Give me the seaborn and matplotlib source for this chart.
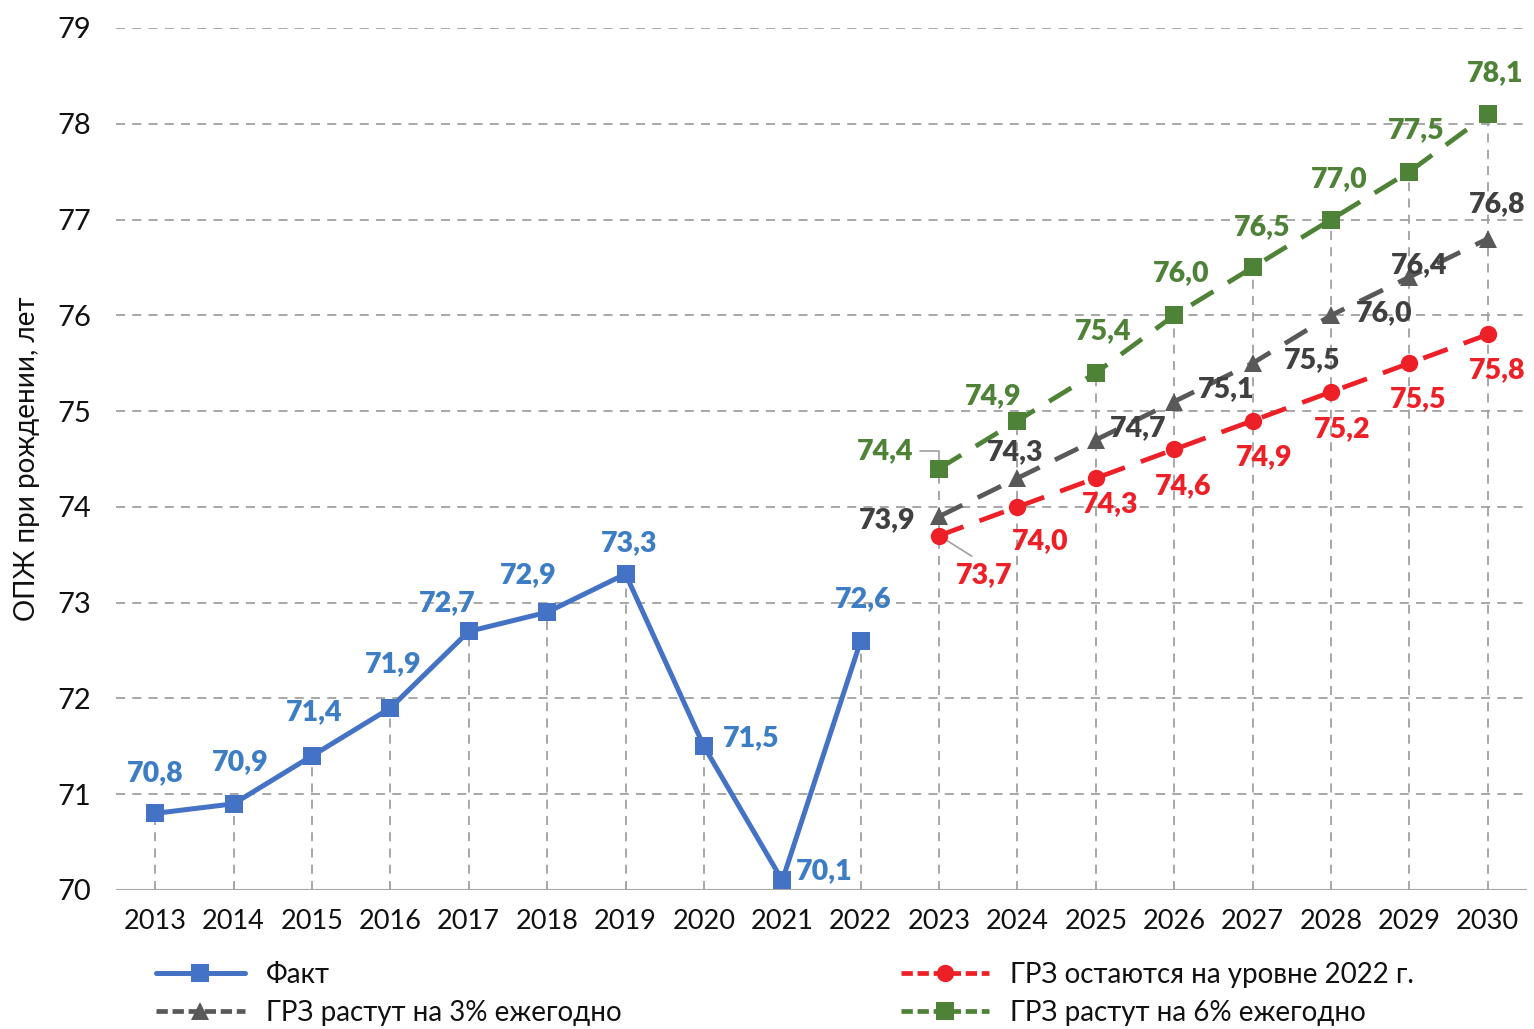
import matplotlib
matplotlib.use("Agg")
import matplotlib.pyplot as plt
from matplotlib.lines import Line2D
import seaborn as sns
import pandas as pd
import numpy as np

years = [str(y) for y in range(2013, 2031)]
fact_years = years[:10]
fact_vals = [70.8, 70.9, 71.4, 71.9, 72.7, 72.9, 73.3, 71.5, 70.1, 72.6]
fc_years = years[10:]
stay_vals = [73.7, 74.0, 74.3, 74.6, 74.9, 75.2, 75.5, 75.8]
g3_vals = [73.9, 74.3, 74.7, 75.1, 75.5, 76.0, 76.4, 76.8]
g6_vals = [74.4, 74.9, 75.4, 76.0, 76.5, 77.0, 77.5, 78.1]

names = ["Факт", "ГРЗ растут на 3% ежегодно", "ГРЗ остаются на уровне 2022 г.", "ГРЗ растут на 6% ежегодно"]
ylabel = "ОПЖ при рождении, лет"

BLUE = "#4472C4"; BLUE_T = "#3C7DC4"
RED = "#EE2027"
GRAY = "#595959"; GRAY_T = "#404040"
GREEN = "#4E8237"; GREEN_T = "#4E8237"

sns.set_theme(style="white")
plt.rcParams['font.family'] = ['Lato', 'DejaVu Sans']

fig = plt.figure(figsize=(15.34, 10.29), dpi=100)
ax = fig.add_axes([116/1534, 1-890/1029, (1527-116)/1534, (890-28)/1029])

xpos = {y: i for i, y in enumerate(years)}
fx = [xpos[y] for y in fact_years]
px = [xpos[y] for y in fc_years]

# drop lines
allmax = {}
for y, v in zip(fact_years, fact_vals):
    allmax[y] = max(allmax.get(y, -1), v)
for vals in (stay_vals, g3_vals, g6_vals):
    for y, v in zip(fc_years, vals):
        allmax[y] = max(allmax.get(y, -1), v)
ax.vlines([xpos[y] for y in years], 70, [allmax[y] for y in years],
          colors="#A0A0A0", linestyles=(0, (5, 4)), linewidth=1.3, zorder=1)

for yv in range(71, 80):
    ax.axhline(yv, color="#A0A0A0", linestyle=(0, (5, 4)), linewidth=1.3, zorder=1)
ax.axhline(70, color="#A6A6A6", linewidth=1.5, zorder=1)

dash = (0, (5.5, 3.6))
sns.lineplot(x=fx, y=fact_vals, ax=ax, color=BLUE, linewidth=3.6, marker='s',
             markersize=13, markeredgewidth=0, zorder=5)
sns.lineplot(x=px, y=stay_vals, ax=ax, color=RED, linewidth=3.4, linestyle=dash, marker='o',
             markersize=12.5, markeredgewidth=0, zorder=4)
sns.lineplot(x=px, y=g3_vals, ax=ax, color=GRAY, linewidth=3.4, linestyle=dash, marker='^',
             markersize=12.5, markeredgewidth=0, zorder=4)
sns.lineplot(x=px, y=g6_vals, ax=ax, color=GREEN, linewidth=3.4, linestyle=dash, marker='s',
             markersize=12.5, markeredgewidth=0, zorder=4)

def fmt(v):
    return f"{v:.1f}".replace(".", ",")

fact_off = [(0, 40), (7, 42), (2, 44), (3, 44), (-22, 28), (-19, 37), (4, 31), (47, 8), (42, 9), (2, 42)]
stay_off = [(45, -40), (23, -34), (14, -26), (9, -37), (11, -36), (11, -37), (9, -36), (9, -36)]
g3_off = [(-52, -4), (-2, 26), (42, 12), (52, 12), (59, 3), (53, 2), (10, 12), (9, 35)]
g6_off = [(-54, 17), (-24, 25), (7, 42), (7, 42), (9, 40), (8, 40), (7, 42), (7, 41)]

def labels(xs, vals, offs, color):
    for x, v, o in zip(xs, vals, offs):
        ax.annotate(fmt(v), (x, v), xytext=o, textcoords='offset pixels',
                    ha='center', va='center', fontsize=20.5, fontweight='heavy',
                    color=color, zorder=6)

labels(fx, fact_vals, fact_off, BLUE_T)
labels(px, stay_vals, stay_off, RED)
labels(px, g3_vals, g3_off, GRAY_T)
labels(px, g6_vals, g6_off, GREEN_T)

# leader lines
ax.annotate("", (px[0], stay_vals[0]), xytext=(35, -22), textcoords='offset pixels',
            arrowprops=dict(arrowstyle='-', color="#A0A0A0", lw=1.2), zorder=3)
ax.annotate("", (px[0], g6_vals[0]), xytext=(-22, 18), textcoords='offset pixels',
            arrowprops=dict(arrowstyle='-', color="#A0A0A0", lw=1.2,
                            connectionstyle="angle,angleA=0,angleB=90,rad=0"), zorder=3)

ax.set_xlim(-0.5, len(years) - 0.5)
ax.set_ylim(70, 79)
ax.set_xticks(range(len(years)))
ax.set_xticklabels(years)
ax.set_yticks(range(70, 80))
ax.tick_params(axis='x', labelsize=19.5, pad=14, length=0, colors="#111111")
ax.tick_params(axis='y', labelsize=21, pad=18, length=0, colors="#111111")
for s in ax.spines.values():
    s.set_visible(False)
ax.set_ylabel(ylabel, fontsize=20, color="#111111", labelpad=12)
ax.grid(False)

ldash = (0, (2.4, 1.0))
handles = [
    Line2D([], [], color=BLUE, lw=3.6, marker='s', markersize=13, markeredgewidth=0),
    Line2D([], [], color=GRAY, lw=3.4, linestyle=ldash, marker='^', markersize=12.5, markeredgewidth=0),
    Line2D([], [], color=RED, lw=3.4, linestyle=ldash, marker='o', markersize=12.5, markeredgewidth=0),
    Line2D([], [], color=GREEN, lw=3.4, linestyle=ldash, marker='s', markersize=12.5, markeredgewidth=0),
]
fig.legend(handles, names, ncol=2, loc='lower left', bbox_to_anchor=(131/1534, -0.021),
           frameon=False, fontsize=20, handlelength=3.2, handletextpad=0.75,
           columnspacing=10.05, labelspacing=0.42, labelcolor="#111111")

fig.savefig("out.png", dpi=100)
